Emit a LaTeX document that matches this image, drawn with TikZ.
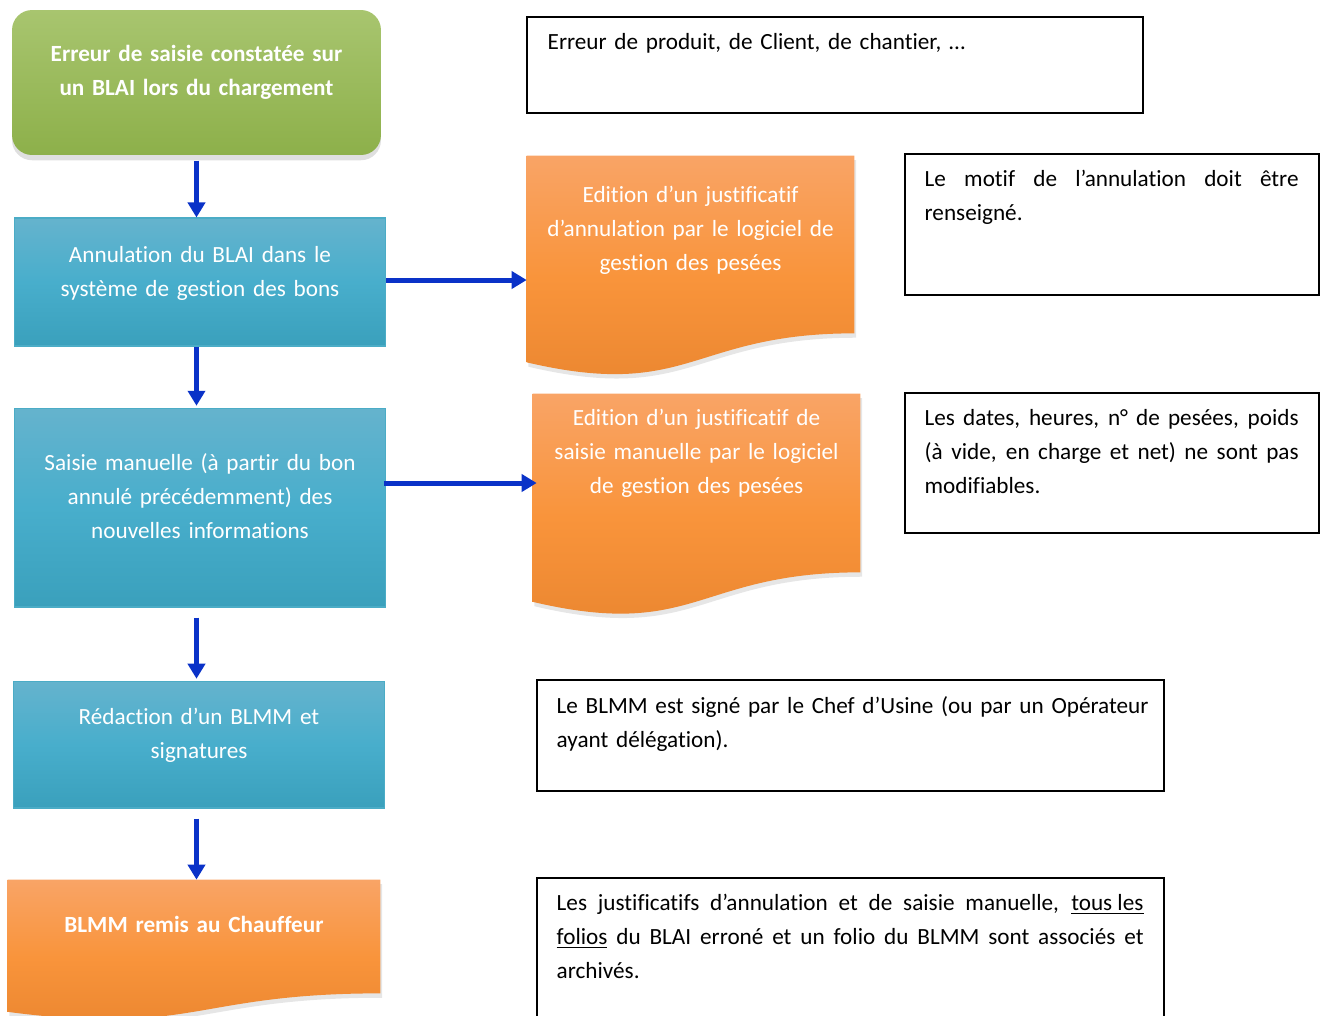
\documentclass[tikz,border=0pt]{standalone}
\usepackage{fontspec}
\setmainfont{Carlito}[Ligatures=NoCommon]
\usetikzlibrary{positioning,arrows.meta,shadows}

\definecolor{greenT}{HTML}{A8C56F}
\definecolor{greenB}{HTML}{8DB04A}
\definecolor{blueT}{HTML}{65B3CD}
\definecolor{blueM}{HTML}{48AECC}
\definecolor{blueB}{HTML}{3AA0BC}
\definecolor{blueEdge}{HTML}{4BACC6}
\definecolor{orangeT}{HTML}{F9A466}
\definecolor{orangeM}{HTML}{F9943B}
\definecolor{orangeB}{HTML}{E9852F}
\definecolor{arrowBlue}{HTML}{0A32C8}

\begin{document}
\begin{tikzpicture}[x=0.02cm,y=-0.02cm,
  every node/.style={font=\fontsize{13.2}{19.3}\selectfont},
  startbox/.style={rectangle,rounded corners=0.4cm,inner sep=0pt,
    top color=greenT,bottom color=greenB,
    drop shadow={opacity=0.25,shadow xshift=0pt,shadow yshift=-3pt}},
  flowbox/.style={rectangle,inner sep=0pt,draw=blueEdge,line width=0.6pt,
    top color=blueT,bottom color=blueB,middle color=blueM},
  docframe/.style={rectangle,inner sep=0pt},
  docshape/.style={top color=orangeT,bottom color=orangeB,middle color=orangeM,
    drop shadow={opacity=0.2,shadow xshift=1pt,shadow yshift=-2.5pt}},
  notebox/.style={rectangle,draw=black,line width=0.8pt,inner sep=0pt},
  flowtext/.style={text=white,align=center,inner sep=0pt,anchor=base},
  notetext/.style={text=black,inner sep=0pt,anchor=base west},
  flowarrow/.style={draw=arrowBlue,line width=0.1cm,
    -{Triangle[width=0.34cm,length=0.3cm]}}]

  \clip (0,0) rectangle (1327,1015);

  % left column
  \node[startbox,minimum width=7.38cm,minimum height=2.9cm] (start) at (196.5,82.5) {};
  \node[flowtext,text width=7cm,font=\fontsize{13.2}{19.3}\selectfont\bfseries] (starttxt)
    at ([yshift=-1.04cm]start.north) {Erreur de saisie constatée sur\\un BLAI lors du chargement};

  \node[flowbox,minimum width=7.44cm,minimum height=2.56cm] (annul) at (200,282) {};
  \node[flowtext,text width=7cm] (annultxt) at ([yshift=-0.9cm]annul.north)
    {Annulation du BLAI dans le\\système de gestion des bons};

  \node[flowbox,minimum width=7.44cm,minimum height=3.98cm] (saisie) at (200,507.5) {};
  \node[flowtext,text width=7cm] (saisietxt) at ([yshift=-1.26cm]saisie.north)
    {Saisie manuelle (à partir du bon\\annulé précédemment) des\\nouvelles informations};

  \node[flowbox,minimum width=7.44cm,minimum height=2.54cm] (redac) at (199,744.5) {};
  \node[flowtext,text width=7cm] (redactxt) at ([yshift=-0.88cm]redac.north)
    {Rédaction d’un BLMM et\\signatures};

  \node[docframe,minimum width=7.44cm,minimum height=2.26cm] (remis) at (194,936.5) {};
  \path[docshape] (remis.north west) -- (remis.north east) -- (remis.south east)
    .. controls +(-186,0) and +(186,24.4) .. ([yshift=-0.37cm]remis.south west) -- cycle;
  \node[flowtext,text width=7cm,font=\fontsize{13.2}{19.3}\selectfont\bfseries] (remistxt)
    at ([yshift=-1.06cm]remis.north) {BLMM remis au Chauffeur};

  % documents edited by the weighing software
  \node[docframe,minimum width=6.54cm,minimum height=3.54cm] (edit1) at (690.5,244.5) {};
  \path[docshape] (edit1.north west) -- (edit1.north east) -- (edit1.south east)
    .. controls +(-163.5,0) and +(163.5,38.3) .. ([yshift=-0.58cm]edit1.south west) -- cycle;
  \node[flowtext,text width=6.4cm] (edit1txt) at ([yshift=-0.94cm]edit1.north)
    {Edition d’un justificatif\\d’annulation par le logiciel de\\gestion des pesées};

  \node[docframe,minimum width=6.54cm,minimum height=3.56cm] (edit2) at (696.5,483) {};
  \path[docshape] (edit2.north west) -- (edit2.north east) -- (edit2.south east)
    .. controls +(-163.5,0) and +(163.5,38.5) .. ([yshift=-0.59cm]edit2.south west) -- cycle;
  \node[flowtext,text width=6.4cm] (edit2txt) at ([yshift=-0.64cm]edit2.north)
    {Edition d’un justificatif de\\saisie manuelle par le logiciel\\de gestion des pesées};

  % notes
  \node[notebox,minimum width=12.32cm,minimum height=1.92cm] (noteA) at (835,65) {};
  \node[notetext,text width=11.5cm,align=left] (noteAtxt) at ([xshift=0.42cm,yshift=-0.66cm]noteA.north west)
    {Erreur de produit, de Client, de chantier, …};

  \node[notebox,minimum width=8.28cm,minimum height=2.82cm] (noteB) at (1112,224.5) {};
  \node[notetext,text width=7.48cm,align=justify] (noteBtxt) at ([xshift=0.4cm,yshift=-0.66cm]noteB.north west)
    {Le motif de l’annulation doit être\linebreak renseigné.};

  \node[notebox,minimum width=8.28cm,minimum height=2.8cm] (noteC) at (1112,463) {};
  \node[notetext,text width=7.48cm,align=justify] (noteCtxt) at ([xshift=0.4cm,yshift=-0.66cm]noteC.north west)
    {Les dates, heures, n° de pesées, poids\linebreak (à vide, en charge et net) ne sont pas\linebreak modifiables.};

  \node[notebox,minimum width=12.54cm,minimum height=2.22cm] (noteD) at (850.5,735.5) {};
  \node[notetext,text width=12cm,align=left] (noteDtxt) at ([xshift=0.4cm,yshift=-0.68cm]noteD.north west)
    {Le BLMM est signé par le Chef d’Usine (ou par un Opérateur\\ayant délégation).};

  \node[notebox,minimum width=12.54cm,minimum height=3.2cm] (noteE) at (850.5,958) {};
  \node[notetext,text width=11.74cm,align=justify] (noteEtxt) at ([xshift=0.4cm,yshift=-0.66cm]noteE.north west)
    {Les justificatifs d’annulation et de saisie manuelle, \underline{tous les}\linebreak
     \underline{folios} du BLAI erroné et un folio du BLMM sont associés et\linebreak archivés.};

  % connectors
  \draw[flowarrow,shorten <=3pt] (start.south) -- (annul.north -| start);
  \draw[flowarrow] (annul.south -| start) -- ([yshift=1pt]saisie.north -| start);
  \draw[flowarrow,shorten <=0.2cm] (saisie.south -| start) -- ([yshift=1pt]redac.north -| start);
  \draw[flowarrow,shorten <=0.2cm] (redac.south -| start) -- (remis.north -| start);
  \draw[flowarrow] ([yshift=0.04cm]annul.east) -- ([yshift=0.04cm]annul.east -| edit1.west);
  \draw[flowarrow] ([xshift=-0.04cm]saisie.east |- edit2) -- ([xshift=0.08cm]edit2.west);
\end{tikzpicture}
\end{document}
